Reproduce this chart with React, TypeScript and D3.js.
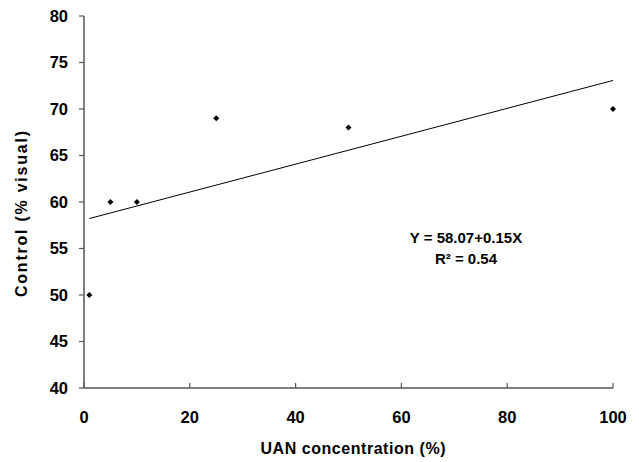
import React from 'react'
import * as d3 from 'd3'

// UAN concentration (%) vs weed control (% visual)
const concentrations = [1, 5, 10, 25, 50, 100]
const controlValues = [50, 60, 60, 69, 68, 70]

// fitted regression Y = 58.07 + 0.15X
const intercept = 58.07
const slope = 0.15
const fitRange = [1, 100]

const xTicks = [0, 20, 40, 60, 80, 100]
const yTicks = [40, 45, 50, 55, 60, 65, 70, 75, 80]

const equationLines = ['Y = 58.07+0.15X', 'R² = 0.54']

const W = 639
const H = 462
const FONT = "'Liberation Sans', Arial, sans-serif"
const AXIS = '#555'

export default function App() {
  const x = d3.scaleLinear().domain([0, 100]).range([84, 613])
  const y = d3.scaleLinear().domain([40, 80]).range([388, 16])

  const marker = d3.symbol().type(d3.symbolSquare).size(18)()!

  const fit = d3
    .line<number>()
    .x(d => x(d))
    .y(d => y(intercept + slope * d))

  return (
    <svg
      width={W}
      height={H}
      style={{ position: 'absolute', left: 0, top: 0, background: '#fff' }}
      fontFamily={FONT}
      fontWeight="bold"
    >
      {/* axes */}
      <line x1={x(0)} x2={x(0)} y1={y(80)} y2={y(40)} stroke={AXIS} strokeWidth={1.5} />
      <line x1={x(0)} x2={x(100)} y1={y(40)} y2={y(40)} stroke={AXIS} strokeWidth={1.5} />

      {yTicks.map(t => (
        <g key={'y' + t}>
          <line x1={x(0) - 5} x2={x(0)} y1={y(t)} y2={y(t)} stroke={AXIS} strokeWidth={1.2} />
          <text x={x(0) - 16} y={y(t)} dy="0.36em" textAnchor="end" fontSize={16.5}>
            {t}
          </text>
        </g>
      ))}

      {xTicks.map(t => (
        <g key={'x' + t}>
          <line x1={x(t)} x2={x(t)} y1={y(40)} y2={y(40) - 5} stroke={AXIS} strokeWidth={1.2} />
          <text x={x(t)} y={y(40) + 35} textAnchor="middle" fontSize={16.5}>
            {t}
          </text>
        </g>
      ))}

      {/* regression line */}
      <path d={fit(fitRange) ?? ''} fill="none" stroke="#000" strokeWidth={1} />

      {/* points */}
      {concentrations.map((c, i) => (
        <path
          key={i}
          d={marker}
          transform={`translate(${x(c)},${y(controlValues[i])}) rotate(45)`}
          fill="#000"
        />
      ))}

      {/* equation */}
      {equationLines.map((s, i) => (
        <text key={i} x={466} y={243 + i * 21} textAnchor="middle" fontSize={15}>
          {s}
        </text>
      ))}

      {/* axis titles */}
      <text x={353} y={454} textAnchor="middle" fontSize={16} textLength={185} lengthAdjust="spacing">
        UAN concentration (%)
      </text>
      <text
        transform="translate(27,214) rotate(-90)"
        textAnchor="middle"
        fontSize={16}
        textLength={166}
        lengthAdjust="spacing"
      >
        Control (% visual)
      </text>
    </svg>
  )
}
